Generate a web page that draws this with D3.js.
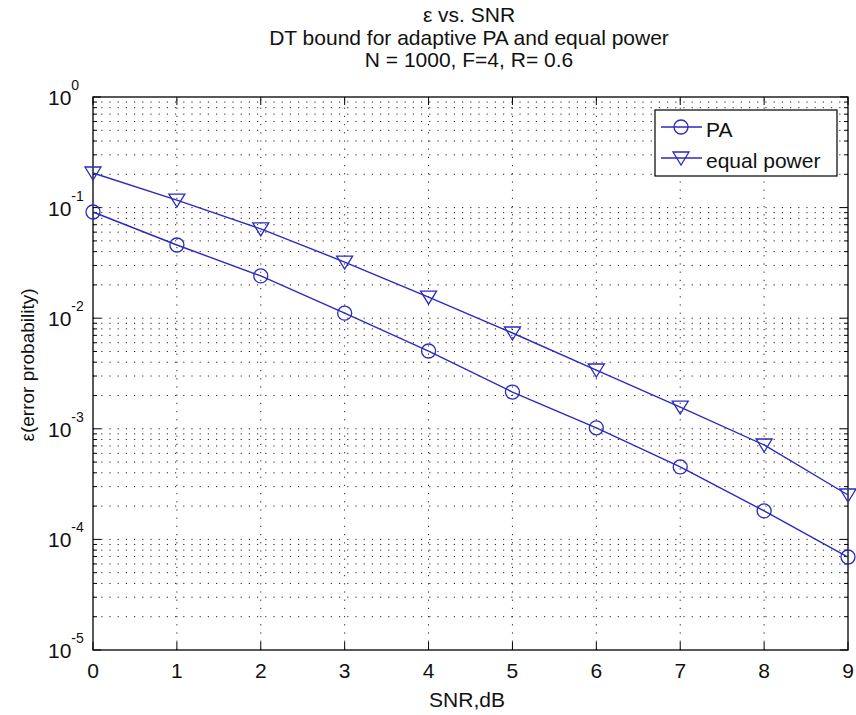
<!DOCTYPE html>
<html><head><meta charset="utf-8">
<script src="https://cdn.jsdelivr.net/npm/d3@7"></script>
<style>body{margin:0;background:#fff}svg{display:block}text{font-family:"Liberation Sans",Arial,sans-serif;fill:#111}</style>
</head><body><svg id="c" width="856" height="715"></svg>
<script>
const snr = [0,1,2,3,4,5,6,7,8,9];
const paValues = [0.0912,0.0459,0.0241,0.0111,0.00505,0.00215,0.00102,0.000452,0.000181,0.0000693];
const equalValues = [0.2056,0.117,0.0641,0.0322,0.0155,0.00735,0.0034,0.00157,0.000714,0.000252];
const xTicks = [0,1,2,3,4,5,6,7,8,9];
const yExponents = [0,-1,-2,-3,-4,-5];
const titleLines = ["\u03b5 vs. SNR","DT bound for adaptive PA and equal power","N = 1000, F=4, R= 0.6"];
const seriesNames = ["PA","equal power"];

const L=93,R=848,T=97,B=650, col="#2a2ac0";
const svg=d3.select("#c");
const x=d3.scaleLinear().domain([0,9]).range([L,R]);
const y=d3.scaleLog().domain([1e-5,1]).range([B,T]);

// grid
const minor=[];
for(let e=-5;e<0;e++) for(let m=1;m<10;m++){ if(m===1&&e===-5) continue; minor.push(m*Math.pow(10,e)); }
const g=svg.append("g");
g.selectAll(".hg").data(minor).enter().append("line")
 .attr("x1",L).attr("x2",R).attr("y1",d=>y(d)).attr("y2",d=>y(d))
 .attr("stroke","#222").attr("stroke-width",1).attr("stroke-dasharray","1.2,7");
g.selectAll(".vg").data(xTicks.slice(1,-1)).enter().append("line")
 .attr("y1",B).attr("y2",T).attr("x1",d=>x(d)).attr("x2",d=>x(d))
 .attr("stroke","#222").attr("stroke-width",1).attr("stroke-dasharray","1.2,7");

// ticks
const tk=svg.append("g").attr("stroke","#000").attr("stroke-width",1);
xTicks.forEach(v=>{
 tk.append("line").attr("x1",x(v)).attr("x2",x(v)).attr("y1",B).attr("y2",B-8);
 tk.append("line").attr("x1",x(v)).attr("x2",x(v)).attr("y1",T).attr("y2",T+8);
});
minor.concat([1,1e-5]).forEach(v=>{
 const major=Math.abs(Math.log10(v)-Math.round(Math.log10(v)))<1e-9;
 const len=major?8:4;
 tk.append("line").attr("x1",L).attr("x2",L+len).attr("y1",y(v)).attr("y2",y(v));
 tk.append("line").attr("x1",R).attr("x2",R-len).attr("y1",y(v)).attr("y2",y(v));
});
svg.append("rect").attr("x",L).attr("y",T).attr("width",R-L).attr("height",B-T)
 .attr("fill","none").attr("stroke","#000").attr("stroke-width",1.3);

// tick labels
svg.selectAll(".xl").data(xTicks).enter().append("text")
 .attr("x",d=>x(d)).attr("y",B+28).attr("text-anchor","middle").attr("font-size",21).text(d=>d);
yExponents.forEach(e=>{
 const t=svg.append("text").attr("x",48).attr("y",y(Math.pow(10,e))+8).attr("font-size",21);
 t.append("tspan").text("10");
 t.append("tspan").attr("dy",-15).attr("font-size",14).text(e);
});

// lines
const line=d3.line().x((d,i)=>x(snr[i])).y(d=>y(d));
[paValues,equalValues].forEach(vals=>{
 svg.append("path").datum(vals).attr("d",line).attr("fill","none").attr("stroke",col).attr("stroke-width",1.4);
});
function circ(sel,cx,cy){sel.append("circle").attr("cx",cx).attr("cy",cy).attr("r",7).attr("fill","none").attr("stroke",col).attr("stroke-width",1.3);}
function tri(sel,cx,cy){sel.append("path").attr("d",`M${cx-8},${cy-6}L${cx+8},${cy-6}L${cx},${cy+7}Z`).attr("fill","none").attr("stroke",col).attr("stroke-width",1.3);}
paValues.forEach((v,i)=>circ(svg,x(snr[i]),y(v)));
equalValues.forEach((v,i)=>tri(svg,x(snr[i]),y(v)));

// legend
const lg=svg.append("g");
lg.append("rect").attr("x",655).attr("y",110).attr("width",182).attr("height",66).attr("fill","#fff").attr("stroke","#000").attr("stroke-width",1.2);
[127,158].forEach((yy,i)=>{
 lg.append("line").attr("x1",661).attr("x2",702).attr("y1",yy).attr("y2",yy).attr("stroke",col).attr("stroke-width",1.4);
 if(i===0) circ(lg,681,yy); else tri(lg,681,yy);
 lg.append("text").attr("x",706).attr("y",yy+10).attr("font-size",21).text(seriesNames[i]);
});

// titles
titleLines.forEach((s,i)=>{
 svg.append("text").attr("x",469).attr("y",[22,45,67][i]).attr("text-anchor","middle").attr("font-size",21).text(s);
});
svg.append("text").attr("x",467).attr("y",707).attr("text-anchor","middle").attr("font-size",21).text("SNR,dB");
svg.append("text").attr("transform","translate(34,365) rotate(-90)").attr("text-anchor","middle").attr("font-size",19).text("\u03b5(error probability)");
</script></body></html>
